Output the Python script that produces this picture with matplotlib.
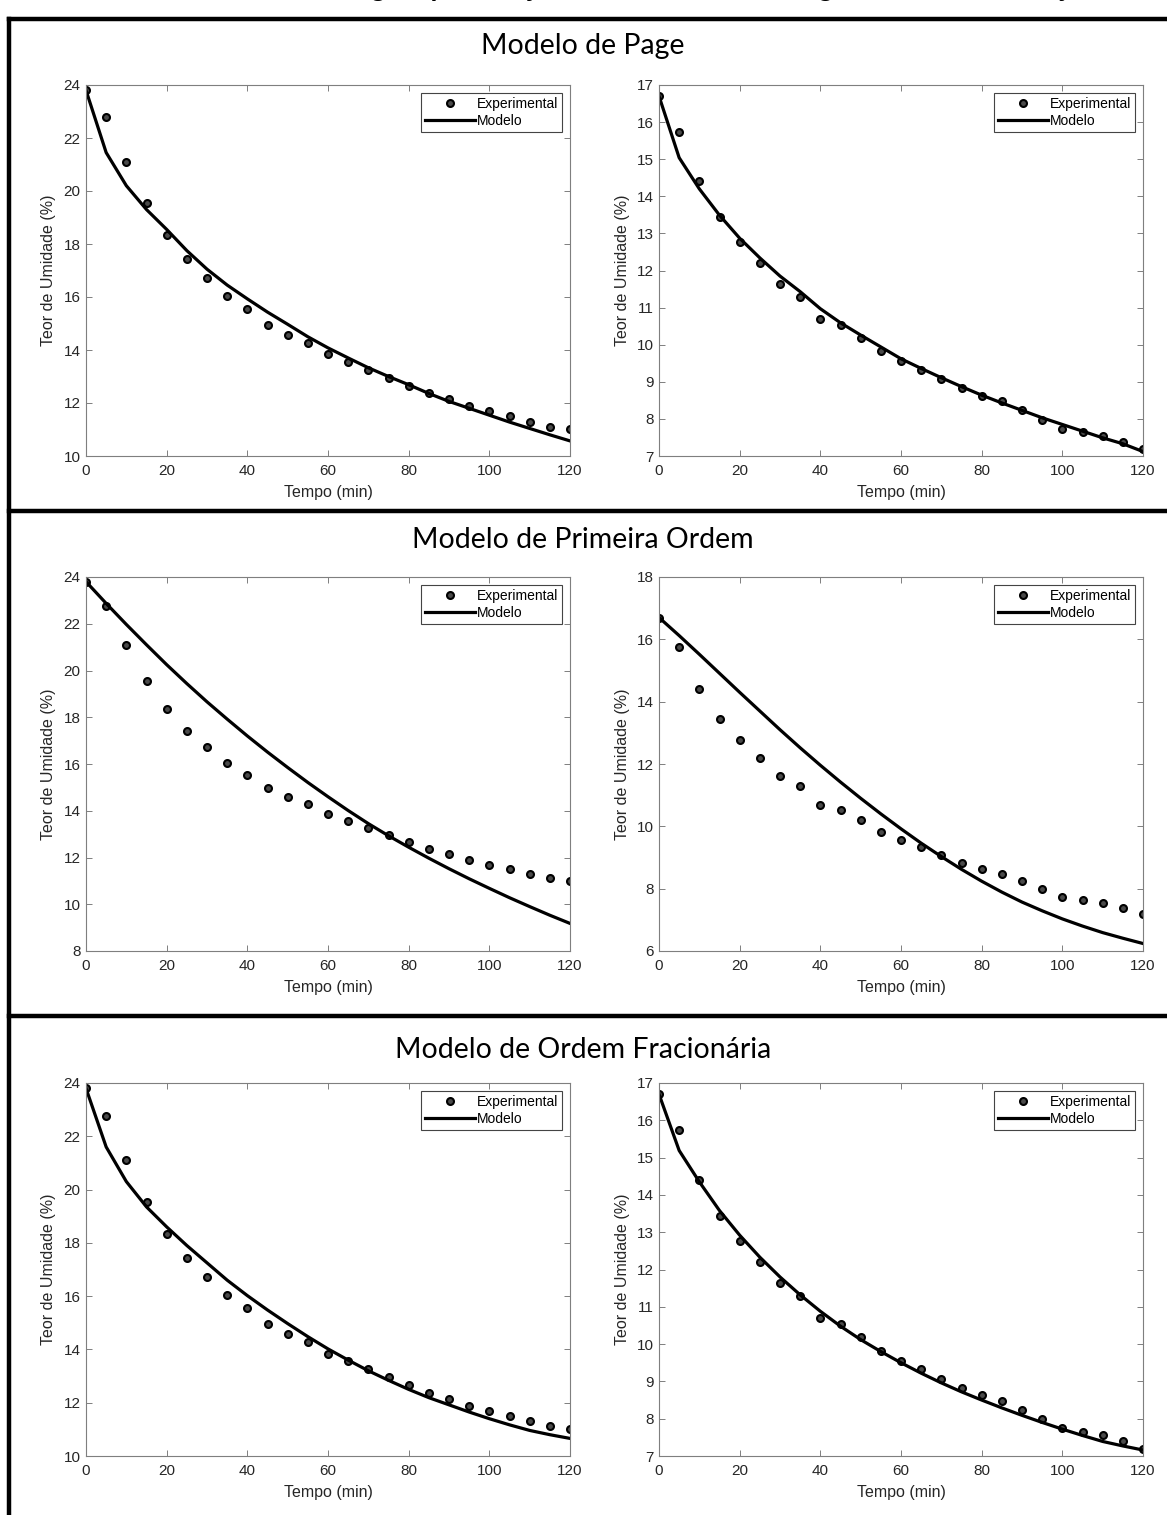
import matplotlib
matplotlib.use('Agg')
import matplotlib.pyplot as plt
from matplotlib.lines import Line2D

plt.rcParams['font.family'] = ['Liberation Sans', 'DejaVu Sans']

# tempo (min)
tempo = [0, 5, 10, 15, 20, 25, 30, 35, 40, 45, 50, 55, 60,
         65, 70, 75, 80, 85, 90, 95, 100, 105, 110, 115, 120]

# dados experimentais (condicao 1 = esquerda, condicao 2 = direita)
exp1 = [23.80, 22.78, 21.11, 19.54, 18.35, 17.42, 16.72, 16.04, 15.54, 14.96, 14.58, 14.27, 13.84,
        13.56, 13.25, 12.95, 12.66, 12.37, 12.14, 11.89, 11.70, 11.51, 11.30, 11.11, 11.01]
exp2 = [16.70, 15.74, 14.40, 13.43, 12.76, 12.19, 11.63, 11.28, 10.70, 10.53, 10.19, 9.82, 9.56,
        9.33, 9.07, 8.83, 8.63, 8.47, 8.24, 7.98, 7.74, 7.65, 7.55, 7.39, 7.19]

# Modelo de Page
page1 = [23.80, 21.45, 20.20, 19.30, 18.55, 17.75, 17.05, 16.45, 15.93, 15.43, 14.97, 14.50, 14.08,
         13.70, 13.33, 13.00, 12.69, 12.36, 12.06, 11.80, 11.54, 11.28, 11.04, 10.80, 10.57]
page2 = [16.70, 15.04, 14.20, 13.49, 12.87, 12.34, 11.85, 11.43, 10.97, 10.59, 10.26, 9.94, 9.62,
         9.36, 9.11, 8.87, 8.64, 8.43, 8.23, 8.03, 7.85, 7.67, 7.49, 7.33, 7.12]

# Modelo de Primeira Ordem
prim1 = [23.80, 22.87, 21.97, 21.10, 20.25, 19.44, 18.66, 17.92, 17.20, 16.51, 15.85, 15.21, 14.60,
         14.01, 13.45, 12.93, 12.44, 11.97, 11.52, 11.09, 10.68, 10.28, 9.90, 9.53, 9.18]
prim2 = [16.70, 16.12, 15.52, 14.91, 14.30, 13.70, 13.10, 12.52, 11.96, 11.42, 10.90, 10.40, 9.92,
         9.46, 9.03, 8.62, 8.24, 7.89, 7.57, 7.29, 7.03, 6.80, 6.59, 6.41, 6.24]

# Modelo de Ordem Fracionaria
frac1 = [23.80, 21.60, 20.30, 19.35, 18.60, 17.90, 17.25, 16.60, 16.02, 15.48, 14.97, 14.48, 14.02,
         13.60, 13.20, 12.84, 12.50, 12.19, 11.92, 11.65, 11.40, 11.17, 10.96, 10.80, 10.66]
frac2 = [16.70, 15.19, 14.35, 13.58, 12.92, 12.33, 11.80, 11.32, 10.88, 10.48, 10.12, 9.80, 9.50,
         9.22, 8.96, 8.72, 8.50, 8.29, 8.09, 7.90, 7.72, 7.55, 7.39, 7.27, 7.16]

titulos = ['Modelo de Page', 'Modelo de Primeira Ordem', 'Modelo de Ordem Fracionária']
modelos = [(page1, page2), (prim1, prim2), (frac1, frac2)]
ylims = [((10, 24, 2), (7, 17, 1)), ((8, 24, 2), (6, 18, 2)), ((10, 24, 2), (7, 17, 1))]

W, H = 1167, 1515
fig = plt.figure(figsize=(W / 100, H / 100), dpi=100)


def rect(x0, y0, x1, y1):
    return [x0 / W, 1 - y1 / H, (x1 - x0) / W, (y1 - y0) / H]


rows = [(85, 456), (577, 951), (1083, 1456)]
cols = [(86, 570), (659, 1143)]
title_y = [46, 540, 1050]
dividers = [511, 1016]

# moldura
fig.add_artist(Line2D([9 / W, 9 / W], [0, 1 - 19 / H], color='black', lw=3.2))
fig.add_artist(Line2D([9 / W, 1], [1 - 19 / H, 1 - 19 / H], color='black', lw=3.2))
for d in dividers:
    fig.add_artist(Line2D([9 / W, 1], [1 - d / H, 1 - d / H], color='black', lw=3.2))

# legenda da figura (cortada no topo, como no original)
fig.text(0.55, 1 + 4 / H, 'Curvas de secagem para o ajuste dos dados de secagem em cada condição',
         ha='center', va='baseline', fontsize=20, fontweight='bold', family='Lato')

for r in range(3):
    fig.text(583 / W, 1 - title_y[r] / H, titulos[r], ha='center', va='center',
             fontsize=20.5, family='Lato', color='black')
    y0, y1 = rows[r]
    for c in range(2):
        x0, x1 = cols[c]
        ax = fig.add_axes(rect(x0, y0, x1, y1))
        expdata = exp1 if c == 0 else exp2
        ax.plot(tempo, expdata, 'o', color='black', markerfacecolor='#4a4a4a',
                markeredgecolor='black', markersize=5, markeredgewidth=1.5,
                label='Experimental')
        ax.plot(tempo, modelos[r][c], '-', color='black', lw=2.3, label='Modelo')
        lo, hi, st = ylims[r][c]
        ax.set_xlim(0, 120)
        ax.set_ylim(lo, hi)
        ax.set_xticks(range(0, 121, 20))
        ax.set_yticks(range(lo, hi + 1, st))
        ax.tick_params(direction='in', top=True, right=True, length=4, width=0.7,
                       color='#7f7f7f', labelcolor='#262626', labelsize=11, pad=4)
        ax.tick_params(axis='x', pad=6)
        for s in ax.spines.values():
            s.set_color('#7f7f7f')
            s.set_linewidth(0.8)
        ax.set_xlabel('Tempo (min)', fontsize=11.5, color='#262626', labelpad=5)
        ax.set_ylabel('Teor de Umidade (%)', fontsize=11.5, color='#262626', labelpad=5)
        leg = ax.legend(loc='upper right', fontsize=10, fancybox=False, framealpha=1,
                        edgecolor='#444444', handlelength=3.6, borderaxespad=0.55,
                        handletextpad=0.15, borderpad=0.3, labelspacing=0.25)
        leg.get_frame().set_linewidth(0.8)

plt.savefig('out.png', dpi=100)
